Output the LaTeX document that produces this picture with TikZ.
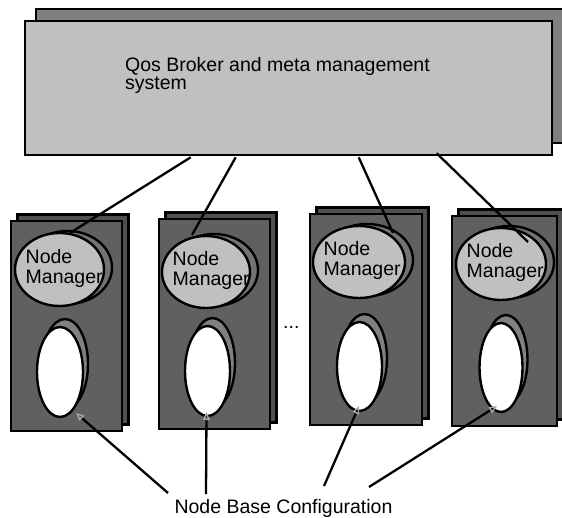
\documentclass[tikz,border=0pt]{standalone}
\usepackage{fontspec}
\setmainfont{Liberation Sans}
\usetikzlibrary{arrows.meta,calc,shapes.geometric}
\definecolor{brokerfill}{HTML}{C0C0C0}
\definecolor{brokerback}{HTML}{808080}
\definecolor{hostfill}{HTML}{606060}
\definecolor{hostback}{HTML}{505050}
\definecolor{mgrshade}{HTML}{737373}
\definecolor{shadowgray}{HTML}{808080}
\definecolor{tipgray}{HTML}{A8A8A8}
% label fonts with a fixed distance between baselines
\newcommand{\labelfont}{\fontsize{19.5bp}{20bp}\selectfont\lineskiplimit=-30bp\relax}
\newcommand{\brokerfont}{\fontsize{19.5bp}{18bp}\selectfont\lineskiplimit=-30bp\relax}

\begin{document}
\begin{tikzpicture}[x=1bp,y=-1bp,
  outline/.style={draw=black, line width=2.6bp},
  brokerbox/.style={outline, fill=brokerfill, rectangle, inner sep=0pt,
    minimum width=527bp, minimum height=134bp},
  mgr/.style={draw=black, line width=2.4bp, fill=brokerfill, ellipse, inner sep=0pt},
  mgrshadow/.style={draw=black, line width=2.4bp, fill=mgrshade, ellipse, inner sep=0pt},
  cfg/.style={draw=black, line width=2.4bp, fill=white, ellipse, inner sep=0pt},
  cfgshadow/.style={draw=black, line width=2.4bp, fill=shadowgray, ellipse, inner sep=0pt},
  label/.style={inner sep=0pt, align=left, font=\labelfont},
  link/.style={draw=black, line width=2.3bp},
  pointer/.style={draw=black, line width=2.3bp,
    -{Triangle[open, length=8bp, width=7bp, line width=1.3bp, color=tipgray]}}
]
\useasboundingbox (0,0) rectangle (562,518);

% broker with its shadow sheet
\draw[outline, fill=brokerback] (36,9) rectangle (580,143);
\node[brokerbox] (broker) at (288.5,88) {};
% anchor "base" of a two-line label sits on its last line
\node[label, anchor=base west, font=\brokerfont]
  (brokertext) at (125,89.2) {Qos Broker and meta management\\system};

% the four hosts: box x range, top, bottom; manager ellipse; configuration ellipse
\foreach \i/\xa/\xb/\ya/\yb/\mx/\my/\mrx/\mry/\cx/\cy/\crx/\cry in {
    1/11/122/221/431/59.5/269.5/44.5/36.5/60/372/23/45,
    2/159/270/219/429/206/272/44/36/207.5/371/22.5/45,
    3/310/422/214/425/359/262/46/36/359.5/366.5/22.5/44.5,
    4/452/557/216/426/501/264/45/36/501/367.5/21.5/44.5}{
  \draw[outline, fill=hostback] (\xa+6.5,\ya-6.5) rectangle (\xb+6.5,\yb-6.5);
  \draw[outline, fill=hostfill] (\xa,\ya) rectangle (\xb,\yb);
  \node[cfgshadow, minimum width=2*\crx bp, minimum height=2*\cry bp]
    (cfgs\i) at (\cx+5,\cy-8) {};
  \node[cfg, minimum width=2*\crx bp, minimum height=2*\cry bp]
    (cfg\i) at (\cx,\cy) {};
  \node[mgrshadow, minimum width=2*\mrx bp, minimum height=2*\mry bp]
    (mgrs\i) at (\mx+8,\my-2) {};
  \node[mgr, minimum width=2*\mrx bp, minimum height=2*\mry bp]
    (mgr\i) at (\mx,\my) {};
  \node[label, anchor=base west] (mgrtext\i) at (\mx-\mrx+10.5,\my+13.5) {Node\\Manager};
}

\node[label, anchor=base west] (dots) at (283,328) {...};

% broker to node managers
\draw[link] ($(broker.south west)+(167,1)$) -- ($(mgr1.center)+(10.5,-36.5)$);
\draw[link] ($(broker.south west)+(212,1)$) -- ($(mgr2.center)+(-14,-37)$);
\draw[link] ($(broker.south west)+(335,1)$) -- ($(mgr3.center)+(34,-29)$);
\draw[link] ($(broker.south west)+(413,-3)$) -- ($(mgr4.center)+(27,-22)$);

% configuration label and its pointers
\node[label, anchor=base] (conf) at (283.5,513) {Node Base Configuration};
\coordinate (s1) at (168,493);
\coordinate (s2) at (206,494);
\coordinate (s3) at (324,486);
\coordinate (s4) at (369,487);
\draw[pointer] (s1) -- ($(cfg1.center)+(16,41)$);
\draw[pointer] (s2) -- ($(cfg2.center)+(-1,41)$);
\draw[pointer] (s3) -- ($(cfg3.center)+(-0.5,39.5)$);
\draw[pointer] (s4) -- ($(cfg4.center)+(-4,38.5)$);
\end{tikzpicture}
\end{document}
